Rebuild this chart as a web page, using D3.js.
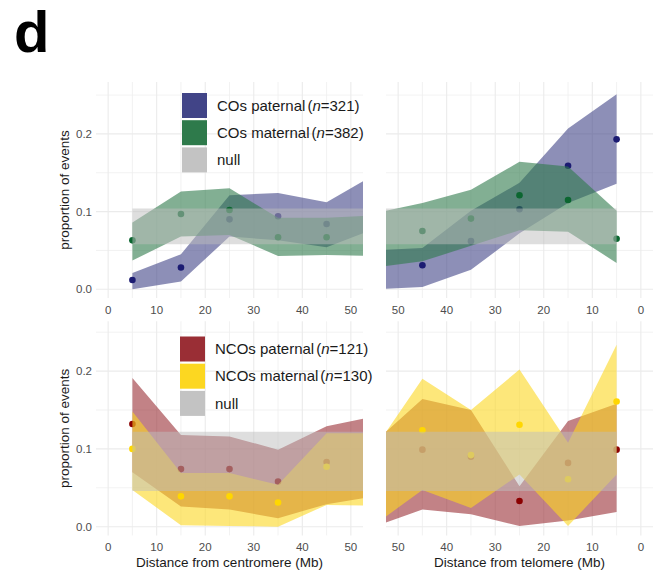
<!DOCTYPE html>
<html>
<head>
<meta charset="utf-8">
<script src="https://cdn.jsdelivr.net/npm/d3@7"></script>
<style>
  body { margin: 0; background: #fff; }
  svg { font-family: "Liberation Sans", Arial, sans-serif; display: block; }
</style>
</head>
<body>
<svg id="chart" width="660" height="573"></svg>
<script>
// bin centres (Mb); the last bin lies just outside the visible range
const bins = [5, 15, 25, 35, 45, 55];
const pointBins = [5, 15, 25, 35, 45];

// COs vs distance from centromere
const coPatCen   = [0.012, 0.028, 0.090, 0.094, 0.084];
const coPatCenLo = [0.000, 0.010, 0.068, 0.063, 0.054, 0.078];
const coPatCenHi = [0.021, 0.045, 0.121, 0.124, 0.112, 0.148];
const coMatCen   = [0.063, 0.097, 0.102, 0.067, 0.067];
const coMatCenLo = [0.037, 0.068, 0.070, 0.043, 0.044, 0.043];
const coMatCenHi = [0.086, 0.126, 0.130, 0.092, 0.092, 0.095];

// COs vs distance from telomere
const coPatTel   = [0.193, 0.159, 0.103, 0.062, 0.031];
const coPatTelLo = [0.136, 0.111, 0.072, 0.025, 0.003, 0.000];
const coPatTelHi = [0.251, 0.207, 0.137, 0.101, 0.053, 0.050];
const coMatTel   = [0.065, 0.115, 0.121, 0.091, 0.075];
const coMatTelLo = [0.034, 0.074, 0.076, 0.056, 0.036, 0.028];
const coMatTelHi = [0.101, 0.158, 0.164, 0.128, 0.111, 0.098];

// NCOs vs distance from centromere
const ncoPatCen   = [0.132, 0.074, 0.074, 0.058, 0.083];
const ncoPatCenLo = [0.070, 0.026, 0.022, 0.011, 0.029, 0.039];
const ncoPatCenHi = [0.191, 0.118, 0.116, 0.099, 0.129, 0.142];
const ncoMatCen   = [0.100, 0.039, 0.039, 0.031, 0.077];
const ncoMatCenLo = [0.047, 0.002, 0.001, 0.000, 0.028, 0.027];
const ncoMatCenHi = [0.148, 0.069, 0.069, 0.054, 0.120, 0.120];

// NCOs vs distance from telomere
const ncoPatTel   = [0.099, 0.082, 0.033, 0.090, 0.099];
const ncoPatTelLo = [0.019, 0.008, 0.001, 0.016, 0.022, 0.000];
const ncoPatTelHi = [0.158, 0.136, 0.052, 0.150, 0.164, 0.108];
const ncoMatTel   = [0.161, 0.061, 0.131, 0.092, 0.124];
const ncoMatTelLo = [0.067, 0.001, 0.067, 0.024, 0.047, 0.002];
const ncoMatTelHi = [0.234, 0.108, 0.202, 0.150, 0.190, 0.099];

// null expectation bands [low, high]
const coNull = [0.058, 0.104];
const ncoNull = [0.046, 0.122];

const xTicks = [0, 10, 20, 30, 40, 50];
const xMinor = [5, 15, 25, 35, 45];
const yTicks = [0, 0.1, 0.2];
const yMinor = [0.05, 0.15, 0.25];

const coLegend = [
  { label: "COs paternal", n: "321", color: "#414487" },
  { label: "COs maternal", n: "382", color: "#2e7a4b" },
  { label: "null", n: null, color: "#c3c3c3" }
];
const ncoLegend = [
  { label: "NCOs paternal", n: "121", color: "#9a2e35" },
  { label: "NCOs maternal", n: "130", color: "#fcd721" },
  { label: "null", n: null, color: "#c3c3c3" }
];

const svg = d3.select("#chart");

// panel label
svg.append("text")
  .attr("x", 14).attr("y", 52)
  .attr("font-size", 58).attr("font-weight", "bold")
  .text("d");

const xLeft = d3.scaleLinear().domain([-2.5, 52.5]).range([96, 363]);
const xRight = d3.scaleLinear().domain([52.5, -2.5]).range([386, 653]);
const yTop = d3.scaleLinear().domain([-0.0112, 0.2668]).range([298, 82]);
const yBot = d3.scaleLinear().domain([-0.0112, 0.264]).range([535.4, 321.3]);

let clipId = 0;

function drawPanel(x, y, pat, mat, nullBand, colors) {
  const [x0, x1] = x.range().slice().sort((a, b) => a - b);
  const [y1, y0] = y.range();
  const id = "clip" + (clipId++);
  svg.append("clipPath").attr("id", id)
    .append("rect").attr("x", x0).attr("y", y0)
    .attr("width", x1 - x0).attr("height", y1 - y0);

  const g = svg.append("g");

  // grid
  g.selectAll(".vminor").data(xMinor).join("line")
    .attr("x1", d => x(d)).attr("x2", d => x(d))
    .attr("y1", y0).attr("y2", y1)
    .attr("stroke", "#efefef").attr("stroke-width", 0.8);
  g.selectAll(".hminor").data(yMinor).join("line")
    .attr("x1", x0).attr("x2", x1)
    .attr("y1", d => y(d)).attr("y2", d => y(d))
    .attr("stroke", "#efefef").attr("stroke-width", 0.8);
  g.selectAll(".vmajor").data(xTicks).join("line")
    .attr("x1", d => x(d)).attr("x2", d => x(d))
    .attr("y1", y0).attr("y2", y1)
    .attr("stroke", "#ebebeb").attr("stroke-width", 1.1);
  g.selectAll(".hmajor").data(yTicks).join("line")
    .attr("x1", x0).attr("x2", x1)
    .attr("y1", d => y(d)).attr("y2", d => y(d))
    .attr("stroke", "#ebebeb").attr("stroke-width", 1.1);

  const plot = svg.append("g").attr("clip-path", `url(#${id})`);

  const area = d3.area()
    .x((d, i) => x(bins[i]))
    .y0(d => y(d[0]))
    .y1(d => y(d[1]));

  [pat, mat].forEach((s, k) => {
    plot.append("path")
      .datum(d3.zip(s.lo, s.hi))
      .attr("d", area)
      .attr("fill", colors.ribbon[k])
      .attr("fill-opacity", 0.6);
    plot.append("g").selectAll("circle")
      .data(s.mean)
      .join("circle")
      .attr("cx", (d, i) => x(pointBins[i]))
      .attr("cy", d => y(d))
      .attr("r", 3.3)
      .attr("fill", colors.point[k]);
  });

  // null band drawn on top
  plot.append("path")
    .datum(bins.map(() => nullBand))
    .attr("d", area)
    .attr("fill", "#bebebe")
    .attr("fill-opacity", 0.5);

  // tick labels
  const tickY = y1 + 16;
  svg.append("g").selectAll("text")
    .data(xTicks).join("text")
    .attr("x", d => x(d)).attr("y", tickY)
    .attr("text-anchor", "middle")
    .attr("font-size", 11.5).attr("fill", "#4d4d4d")
    .text(d => d);
}

function yAxis(y, x0, title) {
  svg.append("g").selectAll("text")
    .data(yTicks).join("text")
    .attr("x", x0 - 4).attr("y", d => y(d) + 4)
    .attr("text-anchor", "end")
    .attr("font-size", 11.5).attr("fill", "#4d4d4d")
    .text(d => d3.format(".1f")(d));
  const [y1, y0] = y.range();
  svg.append("text")
    .attr("transform", `translate(69,${(y0 + y1) / 2}) rotate(-90)`)
    .attr("text-anchor", "middle")
    .attr("font-size", 13.5).attr("fill", "#1a1a1a")
    .text(title);
}

function legend(items, kx, ky) {
  const g = svg.append("g");
  items.forEach((d, i) => {
    const top = ky + i * 27.2;
    g.append("rect")
      .attr("x", kx).attr("y", top)
      .attr("width", 25).attr("height", 25)
      .attr("fill", d.color);
    const t = g.append("text")
      .attr("x", kx + 35).attr("y", top + 17.7)
      .attr("font-size", 15).attr("fill", "#1a1a1a");
    t.append("tspan").text(d.label);
    if (d.n) {
      t.append("tspan").attr("dx", 2).text("(");
      t.append("tspan").attr("font-style", "italic").text("n");
      t.append("tspan").text("=" + d.n + ")");
    }
  });
}

const coColors = { ribbon: ["#414487", "#2e7a4b"], point: ["#1b1b72", "#0b6630"] };
const ncoColors = { ribbon: ["#9a2e35", "#fcd721"], point: ["#8b0000", "#ffd700"] };

drawPanel(xLeft, yTop,
  { mean: coPatCen, lo: coPatCenLo, hi: coPatCenHi },
  { mean: coMatCen, lo: coMatCenLo, hi: coMatCenHi }, coNull, coColors);
drawPanel(xRight, yTop,
  { mean: coPatTel, lo: coPatTelLo, hi: coPatTelHi },
  { mean: coMatTel, lo: coMatTelLo, hi: coMatTelHi }, coNull, coColors);
drawPanel(xLeft, yBot,
  { mean: ncoPatCen, lo: ncoPatCenLo, hi: ncoPatCenHi },
  { mean: ncoMatCen, lo: ncoMatCenLo, hi: ncoMatCenHi }, ncoNull, ncoColors);
drawPanel(xRight, yBot,
  { mean: ncoPatTel, lo: ncoPatTelLo, hi: ncoPatTelHi },
  { mean: ncoMatTel, lo: ncoMatTelLo, hi: ncoMatTelHi }, ncoNull, ncoColors);

yAxis(yTop, 96, "proportion of events");
yAxis(yBot, 96, "proportion of events");

// x axis titles (bottom row only)
svg.append("text")
  .attr("x", 229.5).attr("y", 567)
  .attr("text-anchor", "middle").attr("font-size", 13.5).attr("fill", "#1a1a1a")
  .text("Distance from centromere (Mb)");
svg.append("text")
  .attr("x", 519.5).attr("y", 567)
  .attr("text-anchor", "middle").attr("font-size", 13.5).attr("fill", "#1a1a1a")
  .text("Distance from telomere (Mb)");

legend(coLegend, 182, 93);
legend(ncoLegend, 180, 336.5);
</script>
</body>
</html>
